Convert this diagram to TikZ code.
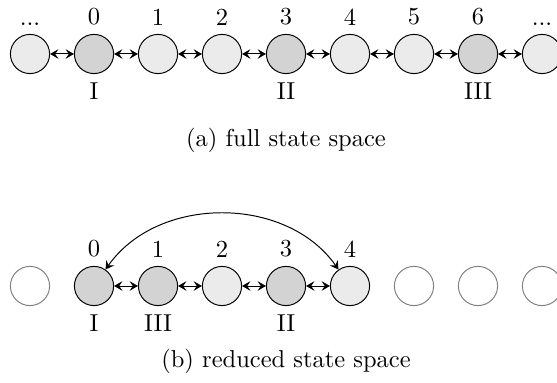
\documentclass[tikz,border=0pt]{standalone}
\usetikzlibrary{arrows.meta}
\definecolor{lightst}{HTML}{EBEBEB}
\definecolor{darkst}{HTML}{D3D3D3}
\begin{document}
\begin{tikzpicture}[x=0.4083pt,y=0.4083pt,
  >={Stealth[length=3.4pt,width=3.9pt,inset=1.3pt]},
  st/.style={circle,draw,minimum size=16pt,inner sep=0pt,fill=lightst},
  dk/.style={st,fill=darkst},
  fd/.style={circle,draw=gray,minimum size=16pt,inner sep=0pt,fill=white},
  link/.style={<->},
  captext/.style={anchor=base}]
\useasboundingbox (0,0) rectangle (557,383);
% top row
\node[st,label={above:...}] (t0) at (30,329) {};
\node[dk,label={above:0},label={below:I}] (t1) at (94,329) {};
\node[st,label={above:1}] (t2) at (158,329) {};
\node[st,label={above:2}] (t3) at (222,329) {};
\node[dk,label={above:3},label={below:II}] (t4) at (286,329) {};
\node[st,label={above:4}] (t5) at (350,329) {};
\node[st,label={above:5}] (t6) at (414,329) {};
\node[dk,label={above:6},label={below:III}] (t7) at (478,329) {};
\node[st,label={above:...}] (t8) at (542,329) {};
\foreach \a/\b in {t0/t1,t1/t2,t2/t3,t3/t4,t4/t5,t5/t6,t6/t7,t7/t8}
  \draw[link] (\a) -- (\b);
\node[captext] (capa) at (286,236) {(a) full state space};
% bottom row
\node[fd] (b0) at (30,97) {};
\node[dk,label={above:0},label={below:I}] (b1) at (94,97) {};
\node[dk,label={above:1},label={below:III}] (b2) at (158,97) {};
\node[st,label={above:2}] (b3) at (222,97) {};
\node[dk,label={above:3},label={below:II}] (b4) at (286,97) {};
\node[st,label={above:4}] (b5) at (350,97) {};
\node[fd] (b6) at (414,97) {};
\node[fd] (b7) at (478,97) {};
\node[fd] (b8) at (542,97) {};
\foreach \a/\b in {b1/b2,b2/b3,b3/b4,b4/b5}
  \draw[link] (\a) -- (\b);
\draw[link] (b1) to[bend left=55] (b5);
\node[captext] (capb) at (286,15) {(b) reduced state space};
\end{tikzpicture}
\end{document}
